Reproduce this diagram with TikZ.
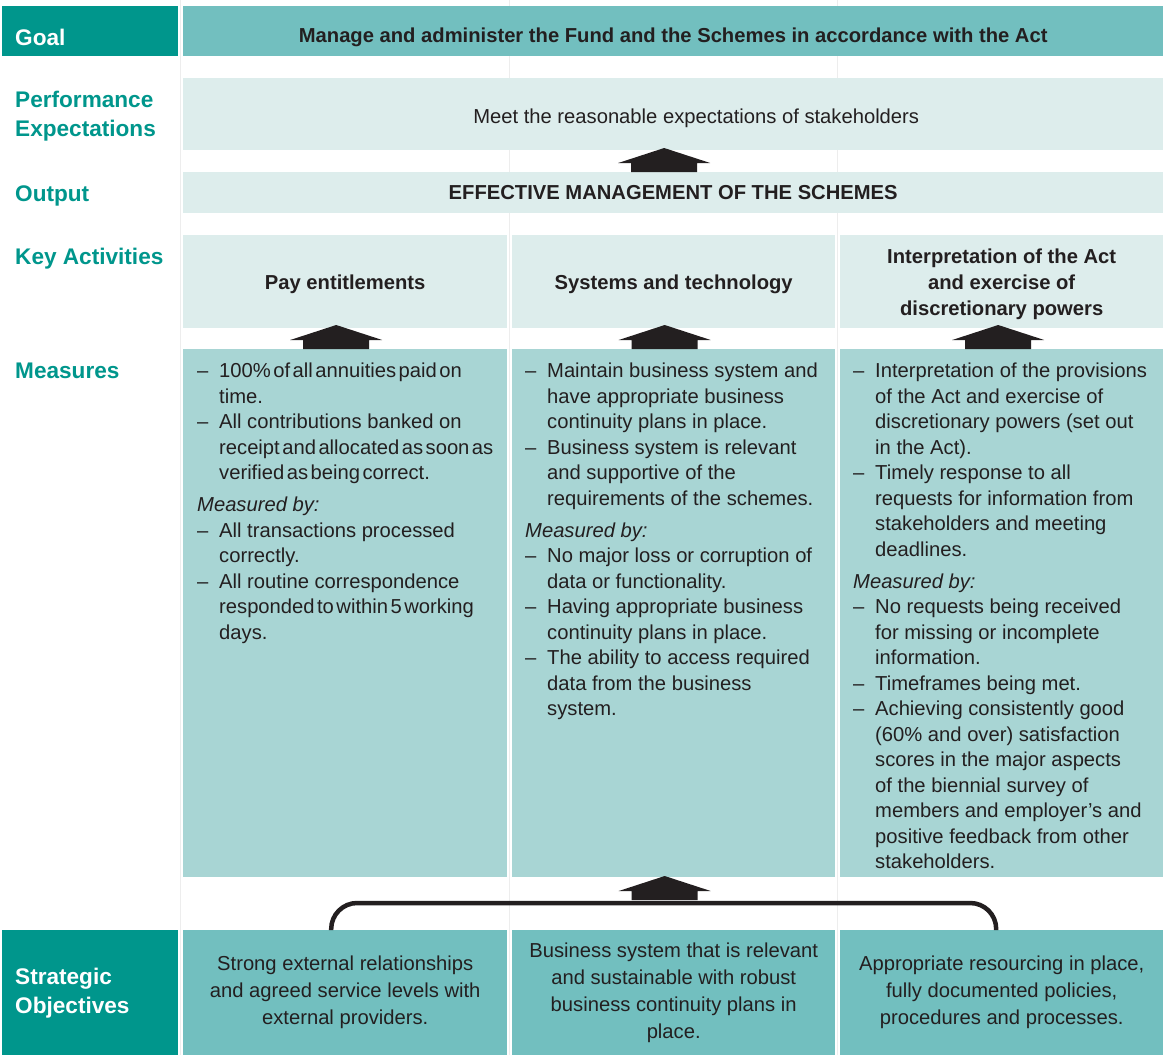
\documentclass[tikz,border=0pt]{standalone}
\usepackage{fontspec}
\setmainfont{Liberation Sans}
\usetikzlibrary{calc}

\definecolor{darkteal}{RGB}{0,150,140}
\definecolor{midteal}{RGB}{114,191,191}
\definecolor{paleteal}{RGB}{221,237,236}
\definecolor{measteal}{RGB}{168,213,212}
\definecolor{inkdark}{RGB}{35,31,32}

\newcommand{\bodyfont}{\fontsize{20.2}{25.5}\selectfont}
\newcommand{\labelfont}{\fontsize{22.6}{29}\selectfont\bfseries}
\newcommand{\dsh}{\makebox[22pt][l]{--}}
\newcommand{\ind}{\makebox[22pt][l]{}}
\newcommand{\tight}[1]{{\spaceskip=2.5pt\relax #1}}
\newcommand{\blockarrow}[1]{\fill[inkdark] #1 ++(-33,0) -- ++(0,-9) -- ++(-13,0) -- ++(46,-15) -- ++(46,15) -- ++(-13,0) -- ++(0,9) -- cycle;}

\begin{document}
\begin{tikzpicture}
  [x=1pt,y=-1pt,
   box/.style={anchor=north west,inner sep=0pt,align=center,text=inkdark,font=\bodyfont},
   headbox/.style={box,font=\fontsize{20.2}{26}\selectfont\bfseries},
   sidebox/.style={anchor=north west,inner sep=0pt,fill=darkteal,minimum width=176,
     text width=150,align=left,text=white,font=\labelfont},
   lbl/.style={anchor=west,inner sep=0pt,align=left,text=darkteal,font=\labelfont},
   meas/.style={anchor=north west,inner sep=0pt,align=left,text=inkdark,font=\bodyfont},
   gridline/.style={black!7,line width=1pt}]
  \useasboundingbox (0,0) rectangle (1163,1055);

  % faint table borders
  \foreach \x in {180.5,509.5,837.5}
    \draw[gridline] (\x,0) -- (\x,1055);

  % goal, expectations, output
  \node[sidebox,minimum height=50,text height=28pt,text depth=0pt] (goallbl) at (2,6) {Goal};
  \node[headbox,fill=midteal,minimum width=980,minimum height=50,text height=26.2pt] (goal) at (183,6)
    {Manage and administer the Fund and the Schemes in accordance with the Act};
  \node[box,fill=paleteal,minimum width=980,minimum height=72,text height=22.2pt] (perf) at (183,78)
    {\hspace*{46pt}Meet the reasonable expectations of stakeholders};
  \node[headbox,fill=paleteal,minimum width=980,minimum height=41] (out) at (183,172)
    {EFFECTIVE MANAGEMENT OF THE SCHEMES};

  \node[lbl] (lperf) at (15,116.5) {Performance\\Expectations};
  \node[lbl] (lout) at (15,196) {Output};
  \node[lbl] (lka) at (15,259) {Key Activities};
  \node[lbl] (lmeas) at (15,371) {Measures};

  % key activities and measures
  \foreach \n/\x/\w/\h/\t in {ka1/183/324/19.2/{Pay entitlements},
                              ka2/512/323/19.2/{Systems and technology},
                              ka3/840/323/71.6/{Interpretation of the Act\\and exercise of\\discretionary powers}}
    \node[headbox,fill=paleteal,minimum width=\w,minimum height=93,text height=\h pt] (\n) at (\x,235) {\t};

  \foreach \n/\x/\w in {m1/183/324,m2/512/323,m3/840/323}
    \node[box,fill=measteal,minimum width=\w,minimum height=528] (\n) at (\x,349) {};

  \node[meas] (m1txt) at ([shift={(14,14)}]m1.north west)
    {\dsh\tight{100\% of all annuities paid on}\\
     \ind time.\\
     \dsh All contributions banked on\\
     \ind\tight{receipt and allocated as soon as}\\
     \ind\tight{verified as being correct.}\\[6.5pt]
     \textit{Measured by:}\\
     \dsh All transactions processed\\
     \ind correctly.\\
     \dsh All routine correspondence\\
     \ind\tight{responded to within 5 working}\\
     \ind days.};
  \node[meas] (m2txt) at ([shift={(13,14)}]m2.north west)
    {\dsh Maintain business system and\\
     \ind have appropriate business\\
     \ind continuity plans in place.\\
     \dsh Business system is relevant\\
     \ind and supportive of the\\
     \ind requirements of the schemes.\\[6.5pt]
     \textit{Measured by:}\\
     \dsh No major loss or corruption of\\
     \ind data or functionality.\\
     \dsh Having appropriate business\\
     \ind continuity plans in place.\\
     \dsh The ability to access required\\
     \ind data from the business\\
     \ind system.};
  \node[meas] (m3txt) at ([shift={(13,14)}]m3.north west)
    {\dsh Interpretation of the provisions\\
     \ind of the Act and exercise of\\
     \ind discretionary powers (set out\\
     \ind in the Act).\\
     \dsh Timely response to all\\
     \ind requests for information from\\
     \ind stakeholders and meeting\\
     \ind deadlines.\\[6.5pt]
     \textit{Measured by:}\\
     \dsh No requests being received\\
     \ind for missing or incomplete\\
     \ind information.\\
     \dsh Timeframes being met.\\
     \dsh Achieving consistently good\\
     \ind (60\% and over) satisfaction\\
     \ind scores in the major aspects\\
     \ind of the biennial survey of\\
     \ind members and employer’s and\\
     \ind positive feedback from other\\
     \ind stakeholders.};

  % strategic objectives
  \node[sidebox,minimum height=125] (sollbl) at (2,930) {Strategic\\Objectives};
  \foreach \n/\x/\w/\t in {so1/183/324/{Strong external relationships\\and agreed service levels with\\external providers.},
                           so2/512/323/{Business system that is relevant\\and sustainable with robust\\business continuity plans in\\place.},
                           so3/840/323/{Appropriate resourcing in place,\\fully documented policies,\\procedures and processes.}}
    \node[box,fill=midteal,minimum width=\w,minimum height=125,font=\fontsize{20.2}{27}\selectfont] (\n) at (\x,930) {\t};

  % arrows
  \blockarrow{([xshift=-9pt]out.north)}
  \foreach \n/\s in {m1/-9,m2/-9,m3/-3.5}
    {\blockarrow{([xshift=\s pt]\n.north)}}

  \coordinate (brk) at ([xshift=-9pt,yshift=27pt]so2.north);
  \draw[inkdark,line width=4.5pt,rounded corners=26pt]
    ([xshift=-14pt]so1.north) |- (brk) -| ([xshift=-5.5pt]so3.north);
  \blockarrow{([yshift=3pt]brk)}
\end{tikzpicture}
\end{document}
